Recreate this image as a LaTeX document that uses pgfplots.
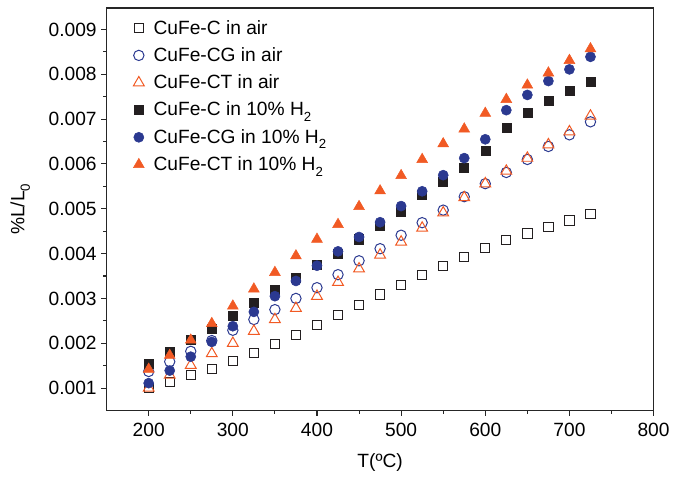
\documentclass[border=0pt]{standalone}
\usepackage{fontspec}
\setmainfont{Liberation Sans}
\usepackage{pgfplots}
\pgfplotsset{compat=1.18}

\definecolor{cblk}{HTML}{231F20}
\definecolor{cblue}{HTML}{2B3990}
\definecolor{corg}{HTML}{F15A24}
\newcommand{\lowsub}[1]{\raisebox{-0.55ex}{\fontsize{10}{11}\selectfont #1}}

\begin{document}
\begin{tikzpicture}[font=\fontsize{14.5}{17}\selectfont]
\begin{axis}[
  scale only axis,
  width=411.75bp, height=303bp,
  xmin=150, xmax=800,
  ymin=0.0005, ymax=0.00948,
  xtick={200,300,...,800},
  ytick={0.001,0.002,...,0.0091},
  minor x tick num=1, minor y tick num=1,
  tick align=outside, xtick pos=left, ytick pos=left,
  major tick length=4bp, minor tick length=2.5bp,
  scaled y ticks=false,
  yticklabel style={/pgf/number format/.cd, fixed, fixed zerofill, precision=3},
  xticklabel style={yshift=-2bp},
  /pgf/number format/assume math mode=true,
  axis line style={line width=0.9bp, black!85},
  every tick/.style={line width=0.8bp, black!85},
  xlabel={T(ºC)},
  ylabel={\%L/L\lowsub{0}},
  xlabel style={yshift=-6bp},
  ylabel style={at={(rel axis cs:0,0.5)}, anchor=center, yshift=65bp},
  legend cell align=left,
  legend style={at={(rel axis cs:0,1)}, anchor=north west, xshift=17bp, yshift=-5bp,
                draw=none, fill=none, row sep=4.6bp,
                nodes={inner xsep=7bp}},
  only marks,
]
\addplot[mark=square, mark size=3.5bp, draw=cblk, line width=0.75bp]
  coordinates {(200,0.00100)(225,0.00114)(250,0.00129)(275,0.00142)(300,0.00161)(325,0.00179)
  (350,0.00198)(375,0.00219)(400,0.00240)(425,0.00263)(450,0.00286)(475,0.00309)(500,0.00330)
  (525,0.00352)(550,0.00372)(575,0.00392)(600,0.00412)(625,0.00430)(650,0.00445)(675,0.00459)
  (700,0.00474)(725,0.00488)};
\addlegendentry{CuFe-C in air}
\addplot[mark=o, mark size=3.9bp, draw=cblue, line width=0.75bp]
  coordinates {(200,0.00137)(225,0.00159)(250,0.00182)(275,0.00206)(300,0.00229)(325,0.00253)
  (350,0.00275)(375,0.00300)(400,0.00324)(425,0.00353)(450,0.00384)(475,0.00411)(500,0.00441)
  (525,0.00469)(550,0.00497)(575,0.00527)(600,0.00556)(625,0.00581)(650,0.00610)(675,0.00639)
  (700,0.00665)(725,0.00694)};
\addlegendentry{CuFe-CG in air}
\addplot[mark=triangle, mark size=4.7bp, draw=corg, line width=0.75bp]
  coordinates {(200,0.00100)(225,0.00129)(250,0.00151)(275,0.00177)(300,0.00200)(325,0.00227)
  (350,0.00253)(375,0.00278)(400,0.00305)(425,0.00336)(450,0.00366)(475,0.00397)(500,0.00426)
  (525,0.00457)(550,0.00491)(575,0.00525)(600,0.00556)(625,0.00584)(650,0.00613)(675,0.00643)
  (700,0.00672)(725,0.00707)};
\addlegendentry{CuFe-CT in air}
\addplot[mark=square*, mark size=3.4bp, draw=cblk, fill=cblk]
  coordinates {(200,0.00155)(225,0.00181)(250,0.00207)(275,0.00233)(300,0.00262)(325,0.00290)
  (350,0.00319)(375,0.00347)(400,0.00375)(425,0.00400)(450,0.00432)(475,0.00462)(500,0.00493)
  (525,0.00532)(550,0.00561)(575,0.00591)(600,0.00630)(625,0.00680)(650,0.00714)(675,0.00740)
  (700,0.00763)(725,0.00784)};
\addlegendentry{CuFe-C in 10\% H\lowsub{2}}
\addplot[mark=*, mark size=3.8bp, draw=cblue, fill=cblue]
  coordinates {(200,0.00111)(225,0.00139)(250,0.00170)(275,0.00203)(300,0.00238)(325,0.00270)
  (350,0.00305)(375,0.00339)(400,0.00373)(425,0.00405)(450,0.00437)(475,0.00470)(500,0.00506)
  (525,0.00539)(550,0.00575)(575,0.00613)(600,0.00655)(625,0.00720)(650,0.00754)(675,0.00785)
  (700,0.00811)(725,0.00839)};
\addlegendentry{CuFe-CG in 10\% H\lowsub{2}}
\addplot[mark=triangle*, mark size=4.7bp, draw=corg, fill=corg]
  coordinates {(200,0.00142)(225,0.00173)(250,0.00207)(275,0.00244)(300,0.00283)(325,0.00321)
  (350,0.00358)(375,0.00395)(400,0.00432)(425,0.00465)(450,0.00505)(475,0.00540)(500,0.00574)
  (525,0.00610)(550,0.00645)(575,0.00678)(600,0.00713)(625,0.00744)(650,0.00776)(675,0.00803)
  (700,0.00831)(725,0.00857)};
\addlegendentry{CuFe-CT in 10\% H\lowsub{2}}
\end{axis}
\path (current axis.south west) ++(-80.25bp,-48.75bp) coordinate (bbA);
\path (current axis.north east) ++(13.5bp,6bp) coordinate (bbB);
\path[use as bounding box] (bbA) rectangle (bbB);
\end{tikzpicture}
\end{document}
